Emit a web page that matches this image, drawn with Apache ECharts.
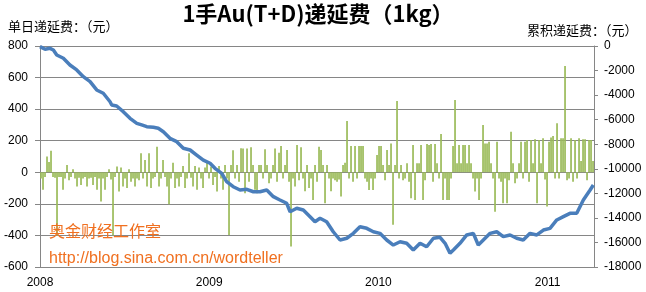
<!DOCTYPE html>
<html>
<head>
<meta charset="utf-8">
<script src="https://cdn.jsdelivr.net/npm/echarts@6/dist/echarts.min.js"></script>
<style>
html,body{margin:0;padding:0;background:#fff;}
#c{width:646px;height:292px;}
</style>
</head>
<body>
<div id="c"></div>
<script>
// ---- Data ----
var titleText = '1手Au(T+D)递延费（1kg）';
var leftAxisName = '单日递延费：（元）';
var rightAxisName = '累积递延费：（元）';
var yearTicks = [2008, 2009, 2010, 2011];
var xStartYear = 2008;
var xEndYear = 2011.274;

// daily deferral fee (元), equally spaced trading periods from start of 2008
var barStartYear = 2008.006;
var barStepYear = 0.01182;
var dailyFee = [
  -40,-110,-30,100,65,137,-30,-35,-400,-30,
  -30,-110,-40,46,-50,-30,20,-40,-90,-35,
  -80,-40,-30,-90,-40,-35,-80,-30,-110,-40,
  -185,-40,-110,-30,20,-45,-400,-30,36,-122,
  30,-90,-40,-100,20,-60,-40,-90,-40,-50,
  120,-40,78,-90,120,-100,-40,-30,162,-90,
  -40,78,-30,-90,-203,-40,60,-100,-40,-90,
  -30,40,-100,-40,120,-35,-90,40,-110,30,
  -40,-100,30,60,-40,36,-80,-30,-122,40,
  -40,-110,46,-40,-397,46,140,-40,46,-60,
  152,150,-133,150,-60,158,46,-110,-133,46,
  46,-40,146,46,-70,-40,46,150,-60,124,
  167,-40,46,141,-60,-470,-40,-90,173,-50,
  158,-40,-120,46,-100,-40,-175,46,-60,162,
  141,46,-196,46,-40,-120,-40,-50,-60,-45,
  -154,46,60,325,-40,167,-60,167,-40,167,
  167,167,-40,-60,-112,-40,-112,-40,110,167,
  167,46,-50,141,46,183,-333,46,452,-40,
  46,-50,-40,57,-60,-165,173,-175,57,57,
  173,-175,-50,179,173,179,-60,179,57,-40,
  243,-175,-40,-175,-175,-40,167,458,57,173,
  57,173,173,57,173,57,-40,-122,-40,-175,
  -40,300,183,183,194,57,-40,-250,194,-40,
  -60,-196,-40,-196,-50,257,57,-70,-40,57,
  194,-40,194,205,-60,205,57,209,-196,205,
  57,215,-45,-217,194,221,230,-40,310,-40,
  215,215,673,-50,-40,215,-60,205,-40,215,
  72,209,209,-50,205,205,72
];

// cumulative deferral fee (元)
var cumYears = [
  2008.000,2008.030,2008.059,2008.079,2008.099,2008.138,2008.177,2008.217,2008.256,2008.296,
  2008.335,2008.374,2008.414,2008.424,2008.453,2008.492,2008.532,2008.572,2008.601,2008.631,
  2008.670,2008.699,2008.729,2008.768,2008.808,2008.847,2008.887,2008.926,2008.965,2009.005,
  2009.034,2009.074,2009.103,2009.142,2009.182,2009.222,2009.261,2009.300,2009.340,2009.379,
  2009.418,2009.458,2009.478,2009.517,2009.556,2009.596,2009.625,2009.655,2009.694,2009.733,
  2009.773,2009.813,2009.852,2009.891,2009.931,2009.970,2010.009,2010.049,2010.088,2010.128,
  2010.167,2010.206,2010.246,2010.285,2010.325,2010.364,2010.394,2010.423,2010.443,2010.482,
  2010.522,2010.561,2010.590,2010.620,2010.660,2010.699,2010.738,2010.778,2010.817,2010.856,
  2010.896,2010.936,2010.975,2011.014,2011.054,2011.093,2011.132,2011.172,2011.211,2011.251,
  2011.270
];
var cumFee = [
  -50,-270,-190,-330,-730,-1000,-1550,-1950,-2500,-2900,
  -3580,-3850,-4540,-4810,-4890,-5350,-5890,-6300,-6430,-6570,
  -6620,-6700,-6980,-7520,-7790,-8330,-8470,-8880,-9290,-9550,
  -9960,-10370,-11050,-11460,-11730,-11670,-11870,-11870,-11730,-12270,
  -12540,-12810,-13500,-13220,-13360,-13900,-14310,-14030,-14310,-15130,
  -15800,-15660,-15260,-14720,-14850,-15130,-15260,-15800,-16210,-15940,
  -16070,-16620,-16070,-16350,-15660,-15580,-16070,-16880,-16620,-16070,
  -15390,-15260,-16210,-15800,-15260,-15130,-15530,-15390,-15660,-15800,
  -15260,-15390,-14990,-14850,-14170,-13900,-13630,-13630,-12540,-11730,
  -11320
];

var watermark1 = '奥金财经工作室';
var watermark2 = 'http://blog.sina.com.cn/wordteller';

// ---- Chart ----
var barData = dailyFee.map(function(v, i){ return [barStartYear + i * barStepYear, v]; });
var lineData = cumYears.map(function(y, i){ return [y, cumFee[i]]; });

var chart = echarts.init(document.getElementById('c'), null, {renderer: 'canvas'});
var axisGray = '#868686';
var labelStyle = {color: '#000', fontSize: 12, fontFamily: 'Liberation Sans, Arial, sans-serif'};

chart.setOption({
  animation: false,
  backgroundColor: '#fff',
  grid: {left: 40, right: 52, top: 46, bottom: 25, containLabel: false},
  graphic: [
    {type: 'text', x: 318, y: 3, style: {text: titleText, align: 'center', fill: '#000',
      font: 'bold 22px "Noto Sans CJK SC", sans-serif'}},
    {type: 'text', x: 8, y: 20, style: {text: leftAxisName, fill: '#000',
      font: '13px "Noto Sans CJK SC", sans-serif'}},
    {type: 'text', x: 527, y: 24, style: {text: rightAxisName, fill: '#000',
      font: '13px "Noto Sans CJK SC", sans-serif'}},
    {type: 'text', x: 49, y: 223, z: 100, style: {text: watermark1, fill: '#F07020',
      font: '16px "Noto Sans CJK SC", sans-serif'}},
    {type: 'text', x: 49, y: 251, z: 100, style: {text: watermark2, fill: '#F07020',
      font: '16px "Liberation Sans", Arial, sans-serif'}}
  ],
  xAxis: {
    type: 'value', min: xStartYear, max: xEndYear, interval: 1,
    axisLine: {show: false}, axisTick: {show: false}, splitLine: {show: false},
    axisLabel: {margin: 10, color: '#000', fontSize: 12, fontFamily: 'Liberation Sans, Arial, sans-serif',
      formatter: function(v){ return yearTicks.indexOf(Math.round(v)) >= 0 && Math.abs(v - Math.round(v)) < 1e-6 ? String(Math.round(v)) : ''; },
      showMaxLabel: false}
  },
  yAxis: [
    {type: 'value', min: -600, max: 800, interval: 200,
      axisLine: {show: true, lineStyle: {color: axisGray}},
      axisTick: {show: true, length: 5, lineStyle: {color: axisGray}},
      splitLine: {show: true, lineStyle: {color: axisGray, width: 1}},
      axisLabel: Object.assign({margin: 12, formatter: function(v){ return String(v); }}, labelStyle)},
    {type: 'value', min: -18000, max: 0, interval: 2000, position: 'right',
      axisLine: {show: true, lineStyle: {color: axisGray}},
      axisTick: {show: true, length: 4, lineStyle: {color: axisGray}},
      splitLine: {show: false},
      axisLabel: Object.assign({margin: 10, formatter: function(v){ return String(v); }}, labelStyle)}
  ],
  series: [
    {type: 'bar', name: '单日递延费', yAxisIndex: 0, data: barData, barWidth: 1.7,
      itemStyle: {color: '#9BBB59'}, z: 2},
    {type: 'line', name: '累积递延费', yAxisIndex: 1, data: lineData, showSymbol: false,
      lineStyle: {color: '#4A7EBB', width: 3.5}, z: 3}
  ]
});
</script>
</body>
</html>
